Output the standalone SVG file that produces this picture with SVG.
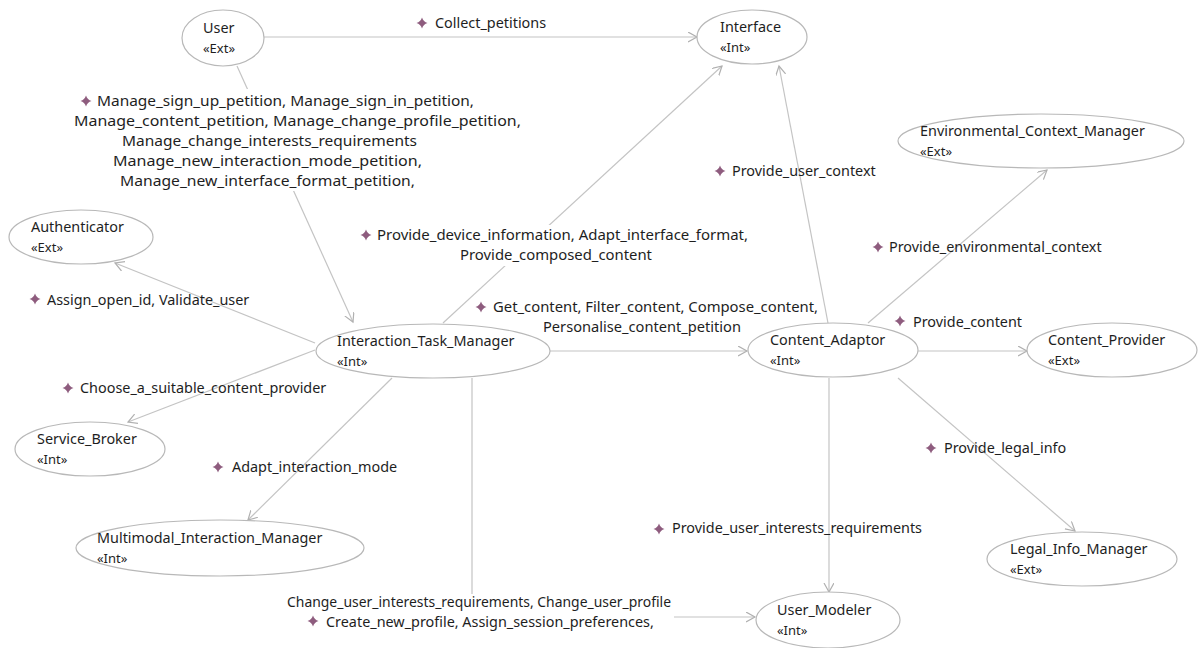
<svg xmlns="http://www.w3.org/2000/svg" xmlns:xlink="http://www.w3.org/1999/xlink" width="1198" height="648" viewBox="0 0 1198 648">
<style>
.node ellipse{fill:#fff;stroke:#b8b8b8;stroke-width:1.2}
.nm{font-family:"Noto Sans","Open Sans","DejaVu Sans",sans-serif;font-size:14.4px;fill:#1e1e1e}
.st{font-family:"Noto Sans","Open Sans","DejaVu Sans",sans-serif;font-size:13px;fill:#1e1e1e}
.lb{font-family:"Noto Sans","Open Sans","DejaVu Sans",sans-serif;font-size:14.4px;fill:#1e1e1e}
.big{font-size:14.4px}
.mid{font-size:14.8px}
.edge{fill:none;stroke:#c4c4c4;stroke-width:1.2;marker-end:url(#arr)}
.bg{fill:#fff}
</style>
<defs>
<marker id="arr" markerUnits="userSpaceOnUse" markerWidth="12" markerHeight="12" refX="9" refY="5" orient="auto">
<path d="M0,0 L9,5 L0,10" fill="none" stroke="#b0b0b0" stroke-width="1.2"/>
</marker>
<path id="dm" d="M0,-5.5 Q1.4,-1.4 5.5,0 Q1.4,1.4 0,5.5 Q-1.4,1.4 -5.5,0 Q-1.4,-1.4 0,-5.5Z" fill="#8e5c7e"/>
</defs>
<rect width="1198" height="648" fill="#fff"/>

<g id="connectors">
<path class="edge" d="M264,37 L697,37"/>
<path class="edge" d="M237,66 L353,322"/>
<path class="edge" d="M443,323 L722,66"/>
<path class="edge" d="M315,343 L115,263"/>
<path class="edge" d="M315,350 L128,422"/>
<path class="edge" d="M392,378 L248,520"/>
<path class="edge" d="M550,351 L747,351"/>
<path class="edge" d="M472,378 V617 H755"/>
<path class="edge" d="M918,351 L1027,351"/>
<path class="edge" d="M868,323 L1047,170"/>
<path class="edge" d="M828,323 L779,66"/>
<path class="edge" d="M898,378 L1075,531"/>
<path class="edge" d="M829,378 L829,592"/>
</g>

<g id="labels">
<use href="#dm" x="422" y="23"/>
<text class="lb" x="435" y="28">Collect_petitions</text>

<rect class="bg" x="70" y="89" width="456" height="102"/>
<use href="#dm" x="86" y="101"/>
<text class="lb big" x="97" y="106" textLength="377" lengthAdjust="spacingAndGlyphs">Manage_sign_up_petition, Manage_sign_in_petition,</text>
<text class="lb big" x="74" y="126" textLength="447" lengthAdjust="spacingAndGlyphs">Manage_content_petition, Manage_change_profile_petition,</text>
<text class="lb big" x="122" y="146" textLength="295" lengthAdjust="spacingAndGlyphs">Manage_change_interests_requirements</text>
<text class="lb big" x="113" y="166" textLength="309" lengthAdjust="spacingAndGlyphs">Manage_new_interaction_mode_petition,</text>
<text class="lb big" x="120" y="186" textLength="295" lengthAdjust="spacingAndGlyphs">Manage_new_interface_format_petition,</text>

<rect class="bg" x="360" y="225" width="392" height="41"/>
<use href="#dm" x="366" y="235"/>
<text class="lb mid" x="377" y="240" textLength="371" lengthAdjust="spacingAndGlyphs">Provide_device_information, Adapt_interface_format,</text>
<text class="lb mid" x="460" y="260" textLength="192" lengthAdjust="spacingAndGlyphs">Provide_composed_content</text>

<use href="#dm" x="35" y="299"/>
<text class="lb" x="47" y="305">Assign_open_id, Validate_user</text>

<use href="#dm" x="68" y="388"/>
<text class="lb" x="80" y="393">Choose_a_suitable_content_provider</text>

<use href="#dm" x="218" y="467"/>
<text class="lb" x="232" y="472">Adapt_interaction_mode</text>

<use href="#dm" x="481" y="307"/>
<text class="lb" x="493" y="312" textLength="325" lengthAdjust="spacingAndGlyphs">Get_content, Filter_content, Compose_content,</text>
<text class="lb" x="543" y="332" textLength="198" lengthAdjust="spacingAndGlyphs">Personalise_content_petition</text>

<rect class="bg" x="285" y="594" width="389" height="38"/>
<text class="lb" x="287" y="607" textLength="384" lengthAdjust="spacingAndGlyphs">Change_user_interests_requirements, Change_user_profile</text>
<use href="#dm" x="313" y="621"/>
<text class="lb" x="326" y="627">Create_new_profile, Assign_session_preferences,</text>

<use href="#dm" x="900" y="321"/>
<text class="lb" x="913" y="327">Provide_content</text>

<use href="#dm" x="878" y="247"/>
<text class="lb" x="889" y="252">Provide_environmental_context</text>

<use href="#dm" x="720" y="171"/>
<text class="lb" x="732" y="176">Provide_user_context</text>

<use href="#dm" x="931" y="448"/>
<text class="lb" x="944" y="453">Provide_legal_info</text>

<use href="#dm" x="659" y="529"/>
<text class="lb" x="672" y="533">Provide_user_interests_requirements</text>
</g>

<g id="User" class="node"><ellipse cx="223" cy="38" rx="41" ry="28"/><text class="nm" x="203" y="33">User</text><text class="st" x="203" y="53">«Ext»</text></g>
<g id="Interface" class="node"><ellipse cx="752" cy="37" rx="55" ry="27"/><text class="nm" x="720" y="32">Interface</text><text class="st" x="720" y="52">«Int»</text></g>
<g id="Authenticator" class="node"><ellipse cx="81" cy="237" rx="72" ry="27"/><text class="nm" x="31" y="232">Authenticator</text><text class="st" x="31" y="252">«Ext»</text></g>
<g id="Interaction_Task_Manager" class="node"><ellipse cx="433" cy="351" rx="117" ry="27"/><text class="nm" x="337" y="346">Interaction_Task_Manager</text><text class="st" x="337" y="366">«Int»</text></g>
<g id="Content_Adaptor" class="node"><ellipse cx="833" cy="350" rx="85" ry="27"/><text class="nm" x="770" y="345">Content_Adaptor</text><text class="st" x="770" y="365">«Int»</text></g>
<g id="Content_Provider" class="node"><ellipse cx="1112" cy="350" rx="85" ry="27"/><text class="nm" x="1048" y="345">Content_Provider</text><text class="st" x="1048" y="365">«Ext»</text></g>
<g id="Environmental_Context_Manager" class="node"><ellipse cx="1041" cy="141" rx="143" ry="27"/><text class="nm" x="920" y="136">Environmental_Context_Manager</text><text class="st" x="920" y="156">«Ext»</text></g>
<g id="Service_Broker" class="node"><ellipse cx="90" cy="449" rx="75" ry="27"/><text class="nm" x="37" y="444">Service_Broker</text><text class="st" x="37" y="464">«Int»</text></g>
<g id="Multimodal_Interaction_Manager" class="node"><ellipse cx="220" cy="548" rx="144" ry="28"/><text class="nm" x="97" y="543">Multimodal_Interaction_Manager</text><text class="st" x="97" y="563">«Int»</text></g>
<g id="User_Modeler" class="node"><ellipse cx="828" cy="620" rx="72" ry="28"/><text class="nm" x="777" y="615">User_Modeler</text><text class="st" x="777" y="635">«Int»</text></g>
<g id="Legal_Info_Manager" class="node"><ellipse cx="1082" cy="559" rx="95" ry="27"/><text class="nm" x="1010" y="554">Legal_Info_Manager</text><text class="st" x="1010" y="574">«Ext»</text></g>
</svg>
